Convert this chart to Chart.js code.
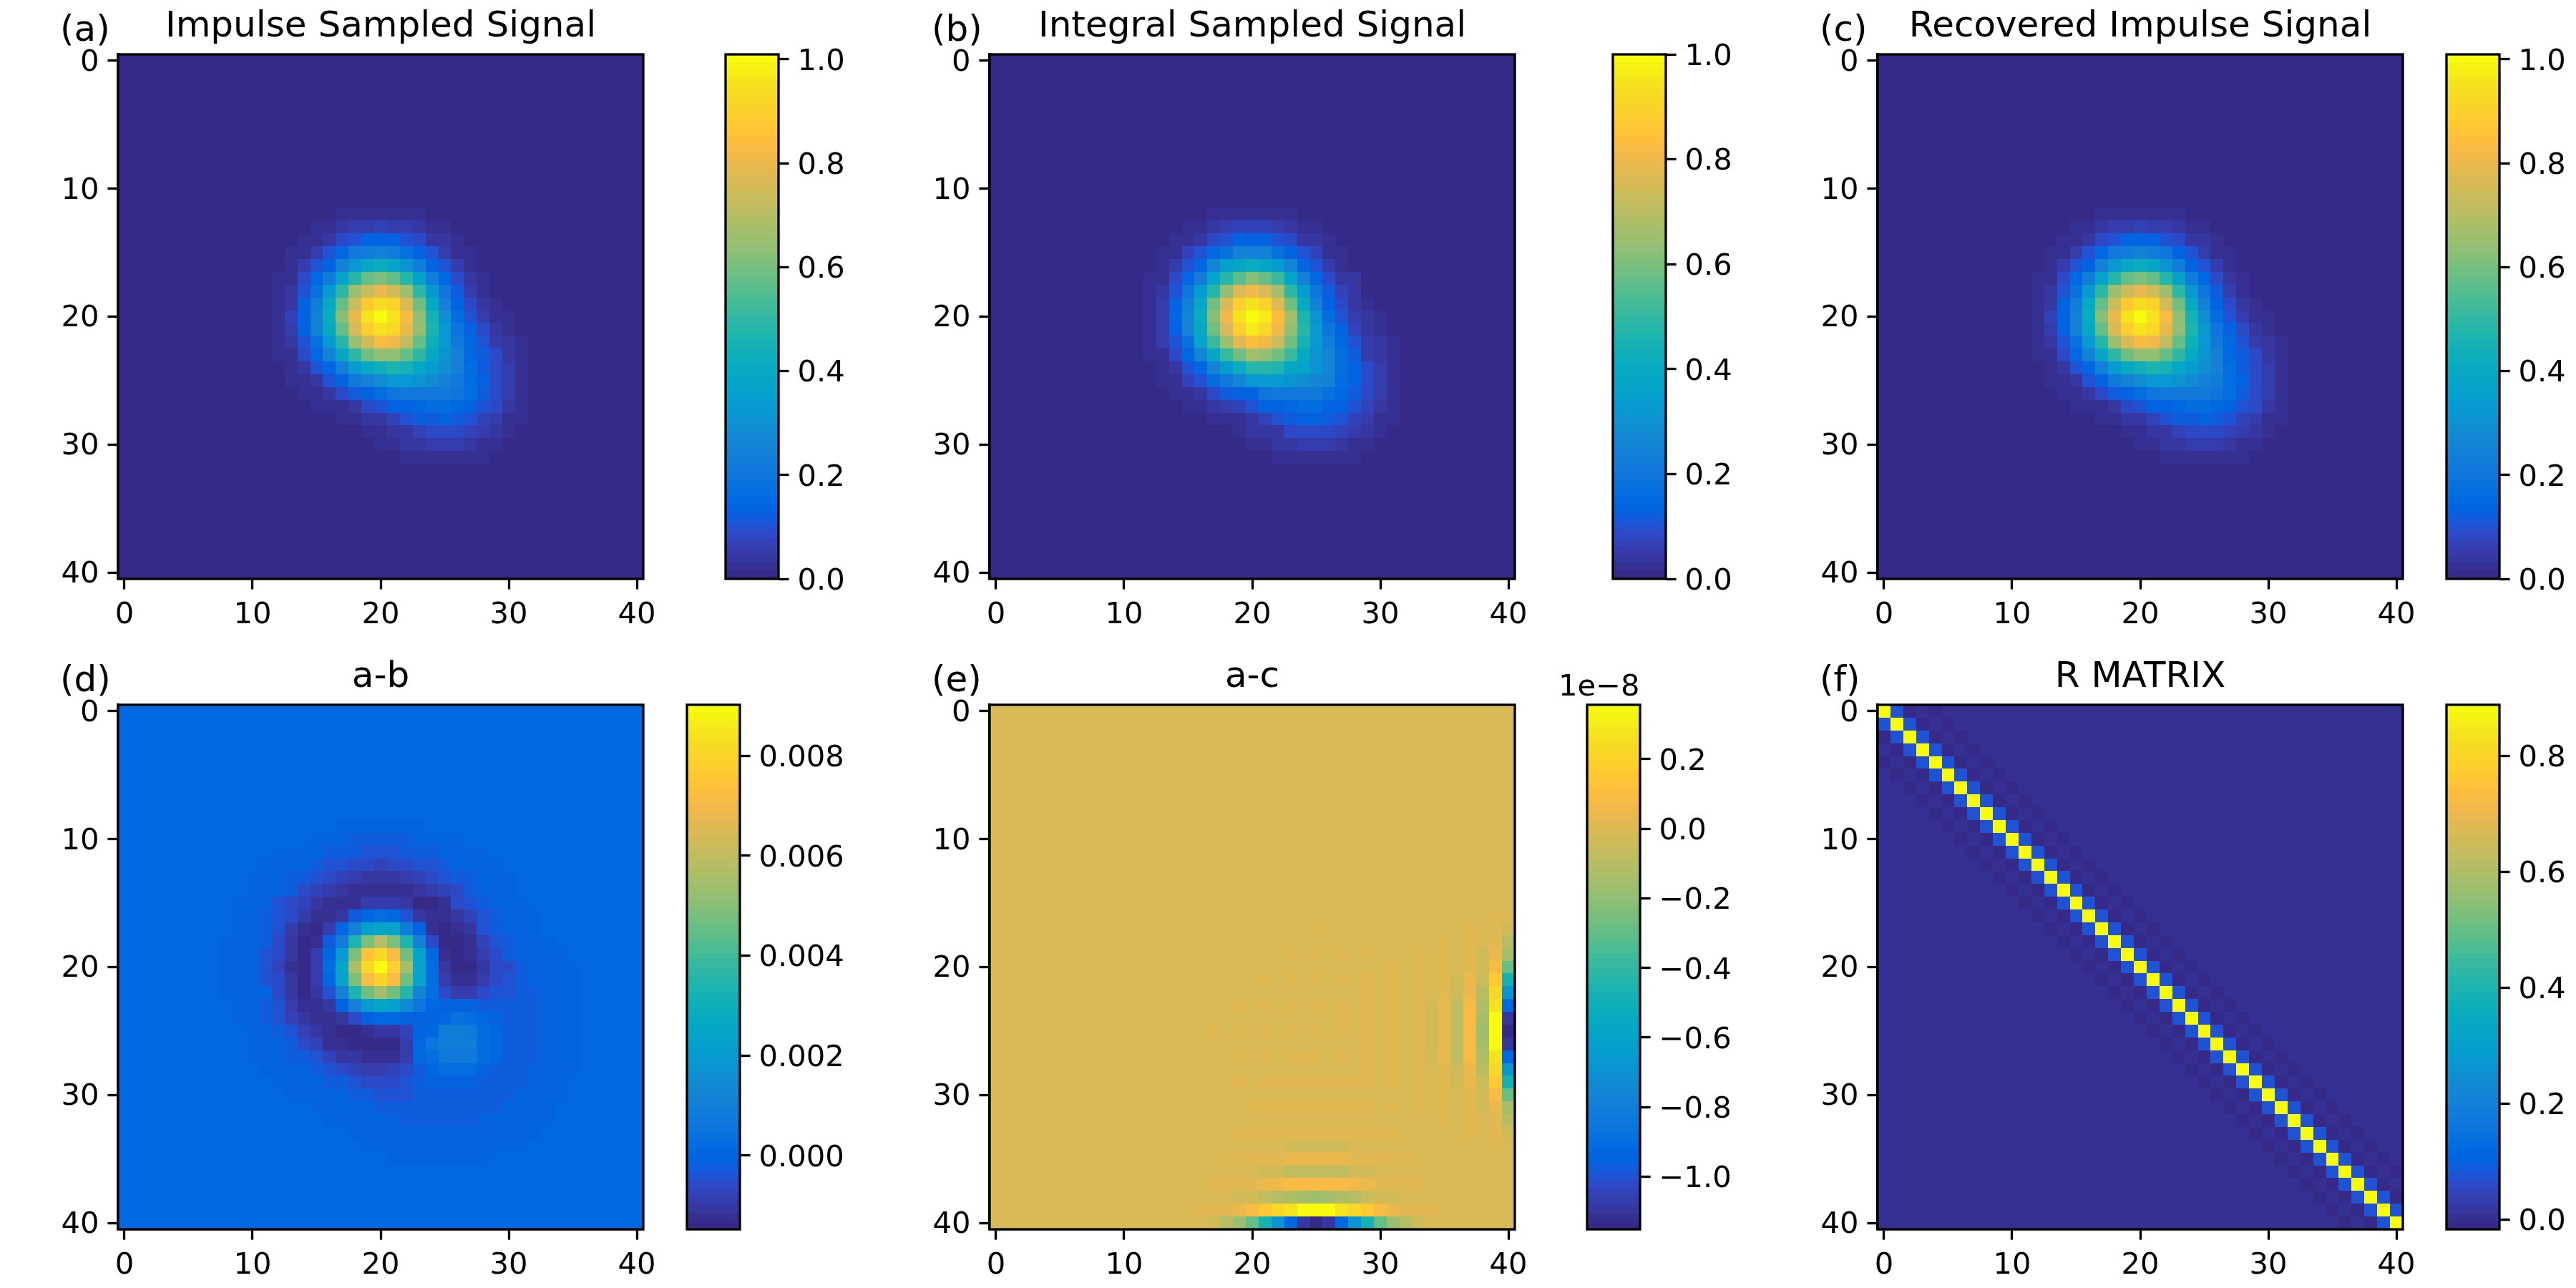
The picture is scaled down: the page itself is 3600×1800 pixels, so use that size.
<!DOCTYPE html>
<html>
<head>
<meta charset="utf-8">
<title>Sampled signal comparison</title>
<script src="https://cdn.jsdelivr.net/npm/chart.js@4"></script>
<style>
    html, body { margin: 0; padding: 0; background: #fff; width: 3600px; height: 1800px; overflow: hidden; }
    canvas { position: absolute; }
</style>
</head>
<body>
<script>
// Panel text and tick labels
const panelTitles = ['Impulse Sampled Signal', 'Integral Sampled Signal', 'Recovered Impulse Signal', 'a-b', 'a-c', 'R MATRIX'];
const panelLetters = ['(a)', '(b)', '(c)', '(d)', '(e)', '(f)'];
const axisTicks = [0, 10, 20, 30, 40];
const gridSize = 41;

// Panel (a), in percent, rows 12-31, columns 12-31 (the rest is 0)
const impulseRows = [
    [0,0,0,0,0,2,2,2,2,2,2,2,0,0,0,0,0,0,0,0],
    [0,0,0,2.5,2.5,4,5,5,7,5.5,5.5,4,2.5,2.5,0,0,0,0,0,0],
    [0,0,2,3,4.5,9,10,13,13,13,10,9,4.5,3.5,2,0,0,0,0,0],
    [0,2,3,5,10,15,21,23,25,23,18,14,10,5,3,2,0,0,0,0],
    [0,2,5,10,14,25,33,39,42,39,30,23,14,10,5,2,0,0,0,0],
    [2,3,8,15,23,37,48,58,61,57,48,36,23,15,8,4,3,0,0,0],
    [2,4.5,10,18,32,49,65,74,80,75,65,49,33,19,12,5,3,0,0,0],
    [2,4.5,14,23,40,58,74,88,94,90,76,59,40,24,14,8.5,4,3,0,0],
    [2,7,14,25,42,62,80,95,100,96,83,64,45,29,16,10,5.5,3,2.5,0],
    [2,5,14,24,40,58,77,89,96,92,80,64,47,33,19,14,8,3.5,3,0],
    [2,4.5,10,18,32,48,65,75,83,81,71,57,44,32,22,15,10,5,4,3],
    [2,3,8,15,24,38,49,59,64,64,57,50,40,31,25,15,12,8,4,3],
    [0,2,4.5,10,15,25,34,41,44,46,45,39,34,29,25,17,12,8.5,5.5,3],
    [0,2,3,4.5,10,14,21,25,29,32,32,30,28,25,22,17,13,9,5.5,2.5],
    [0,0,2,3,4.5,9,11.5,14,16,20,21,21,21,21,19,16,12,9,5.5,2.5],
    [0,0,0,2,2,3,3.5,8.5,10,13,14,15,16,16,15,14,10,8,4,2.5],
    [0,0,0,0,0,2.5,2.5,3.5,4.5,6.5,10,11.5,11.5,13,12,10,7,5,3,3],
    [0,0,0,0,0,0,0,2.5,2.5,3.5,4.5,7,8.5,8.5,8.5,7.5,5.5,3.5,3,0],
    [0,0,0,0,0,0,0,0,2.5,2.5,3.5,4,5,5,5,3.5,3,2.5,0,0],
    [0,0,0,0,0,0,0,0,0,0,2.5,2.5,2.5,2.5,2.5,2.5,2.5,0,0,0]
];

// Panel (b), same window
const integralRows = [
    [0,0,0,0,0,2,2,2,2,2,2,2,0,0,0,0,0,0,0,0],
    [0,0,0,2.5,2.5,4,5,7.5,7.5,7.5,5.5,4,2.5,2.5,0,0,0,0,0,0],
    [0,0,2,3,4.5,9,10,13,13,13,10.5,9,4.5,3.5,2,0,0,0,0,0],
    [0,2,3,7,10,15,18,24,24,24,18,14,10,7,3,2,0,0,0,0],
    [0,2,5,10,14.5,25,35,38,41,38,34,25,15,10,5,2,0,0,0,0],
    [2,3,8,15,23,37,47,56,61,57,50,37,24,15,8,4,3.5,0,0,0],
    [2,4.5,10,19,34,47,63,75,80,76,66,49,33,19,12,7,4.5,0,0,0],
    [2,5.5,14,24,39,58,76,88,94,90,78,59,40,24,14,8.5,4.5,3,0,0],
    [2,5.5,14.5,25,42,62,80,95,100,96,83,67,46,30,16,10,5,4,3,0],
    [2,5.5,14,25,40,58,76,89,96,92,80,64,47,32,19,14,7,4,3,0],
    [2,5,10,18,36,51,65,77,83,81,72,59,45,32,23,15,10,5,4,3],
    [2,3,8,15,25,38,51,59,66,64,59,51,40,31,25,16,12,6,4,3],
    [0,2,4.5,10,15,25,34,41,47,47,46,39,37,30,25,17,13,8.5,5.5,3],
    [0,2,3,7,10,16,21,25,32,33,33,31,29,25,24,17,13,8.5,5.5,2.5],
    [0,0,2,3,4.5,9,11.5,13,14,19,21,21,21,21,18,15,11.5,8.5,5.5,2.5],
    [0,0,0,2.5,2.5,3.5,6,7,10,13,14,15,16,16,14,14,10,7.5,4,2.5],
    [0,0,0,0,0,2.5,3,3,4.5,7,10,11.5,13,13,11.5,10,7.5,5,3,3],
    [0,0,0,0,0,0,0,2.5,3.5,3.5,4.5,8,8.5,8.5,8,7,5.5,3.5,3,0],
    [0,0,0,0,0,0,0,0,2.5,2.5,3.5,4,5,5,5,3.5,3,2.5,0,0],
    [0,0,0,0,0,0,0,0,0,0,2.5,2.5,2.5,2.5,2.5,2.5,2.5,0,0,0]
];

// Panel (c), same window
const recoveredRows = [
    [0,0,0,0,0,2,2,2,2,2,2,2,0,0,0,0,0,0,0,0],
    [0,0,0,2.5,2.5,4,5,5,7,5.5,5.5,4,2.5,2.5,0,0,0,0,0,0],
    [0,0,2,3,4.5,9,10,13,13,13,10,9,4.5,3.5,2,0,0,0,0,0],
    [0,2,3,5,10,15,21,23,24,23,19,14,10,5,3,2,0,0,0,0],
    [0,2,5,10,14,25,33,39,42,39,31,23,14,10,5,2,0,0,0,0],
    [2,3,8,15,23,37,48,58,61,57,48,36,23,15,8,4,3,0,0,0],
    [2,4.5,10,18,32,49,65,74,80,75,65,49,33,19,12,5,3,0,0,0],
    [2,4.5,14,23,40,58,74,88,94,90,75,59,40,24,14,8.5,4,3,0,0],
    [2,7,14,25,42,62,80,95,100,96,83,64,45,29,16,10,5.5,3,2.5,0],
    [2,5,14,24,40,58,77,89,96,92,80,64,47,33,19,14,8,3.5,3,0],
    [2,4.5,10,18,32,48,65,76,83,81,71,57,44,32,22,15,10,5,4,3],
    [2,3,8,15,24,38,49,59,64,64,57,50,40,31,25,15,12,8,4,3],
    [0,2,4.5,10,15,25,34,41,44,46,45,39,34,29,25,17,12,8.5,5.5,3],
    [0,2,3,4.5,10,14,21,25,29,32,32,30,28,25,23,17,13,9,5.5,2.5],
    [0,0,2,3,4.5,9,11.5,14,16,20,21,21,21,21,19,16,12,9,5.5,2.5],
    [0,0,0,2,2,3,3.5,8.5,10,13,14,15,16,16,15,14,10,8,4,2.5],
    [0,0,0,0,0,2.5,2.5,3.5,4.5,6.5,10,11.5,11.5,13,12,10,7,5,3,3],
    [0,0,0,0,0,0,0,2.5,2.5,3.5,4.5,7,8.5,8.5,8.5,7.5,5.5,3.5,3,0],
    [0,0,0,0,0,0,0,0,2.5,2.5,3.5,4,5,5,5,3.5,3,2.5,0,0],
    [0,0,0,0,0,0,0,0,0,0,2.5,2.5,2.5,2.5,2.5,2.5,2.5,0,0,0]
];

// Panel (d), in units of 1e-4, rows 9-35, columns 8-35 (the rest is 0.3)
const diffABRows = [
    [.3,.3,.3,.3,.3,.3,.3,.3,.3,-1,-1,-1,-1,-1,-1,-1,.3,.3,.3,.3,.3,.3,.3,.3,.3,.3,.3,.3],
    [.3,.3,.3,.3,.3,.3,.3,-1,-1,-1,-2.5,-2.5,-2.5,-2.5,-2.5,-1,-1,-1,-1,.3,.3,.3,.3,.3,.3,.3,.3,.3],
    [.3,.3,.3,.3,-1,-1,-1,-1,-2.5,-2.5,-2.5,-4,-4,-4,-2.5,-2.5,-2.5,-1,-1,-1,-1,.3,.3,.3,.3,.3,.3,.3],
    [.3,.3,.3,-1,-1,-1,-1,-2.5,-4,-4,-5.8,-5.8,-7.5,-5.8,-5.8,-4,-4,-2.5,-1,-1,-1,-1,.3,.3,.3,.3,.3,.3],
    [.3,.3,-1,-1,-1,-2.5,-2.5,-4,-5.8,-7.5,-9,-10.8,-10.8,-10.8,-9,-7.5,-5.8,-4,-2.5,-2.5,-1,-1,-1,.3,.3,.3,.3,.3],
    [.3,.3,-1,-1,-1,-2.5,-5.8,-7.5,-9,-10.8,-12.3,-12.3,-12.3,-12.3,-12.3,-10.8,-9,-7.5,-5.8,-2.5,-1,-1,-1,.3,.3,.3,.3,.3],
    [.3,-1,-1,-1,-4,-5.8,-8,-10.8,-13,-13,-12,-9.5,-9.5,-9.5,-11.5,-13.5,-13.5,-12,-6.5,-4,-2.5,-1,-1,-1,.3,.3,.3,.3],
    [.3,-1,-1,-2.5,-4,-5.8,-9,-13,-13,-10,-2.5,1,3,1,-4,-10.5,-13,-13,-10.5,-7.5,-4,-2.5,-1,-1,-1,.3,.3,.3],
    [.3,-1,-1,-2.5,-4,-8.5,-12,-13.5,-9.5,0,10,22,26,23,9.5,-.5,-12,-14,-13,-10,-4.5,-2.5,-1,-1,-1,.3,.3,.3],
    [-1,-1,-1,-2.5,-5.5,-10,-13.5,-12,-2.5,9,33,49,58,49,33,10,-6,-14,-14,-12,-7,-4,-2.5,-1,-1,-1,.3,.3],
    [-1,-1,-1,-4,-5.8,-11.5,-13.5,-9,1,21,49,74,81,72,47,23,1,-12.5,-14,-13,-9,-5.5,-2.5,-1,-1,-1,-1,.3],
    [-1,-1,-1,-4,-7.5,-12,-13.5,-9,3,25,57,81,90,78,55,24,2,-11.5,-14,-13.5,-10,-6,-5,-2.5,-1,-1,-1,-1],
    [-1,-1,-1,-4,-5.8,-11.5,-13.5,-9,1,23,49,72,79,72,47,24,2,-9,-12.5,-12,-9,-6,-4.5,-2.5,-1,-1,-1,-1],
    [-1,-1,-1,-1,-5,-10,-13.5,-11.5,-4,10,33,47,55,47,35,13,2,-5.5,-8.5,-8.5,-6.5,-4.5,-4.5,-2.5,-2.5,-1,-1,-1],
    [.3,-.5,-.5,-2.5,-4,-8.5,-12,-13,-10.5,-.5,10,21,25,22,14,6.5,1.5,-.5,-.5,-.5,-2,-2.5,-2.5,-2.5,-2.5,-1,-1,-1],
    [.3,-.5,-.5,-2.5,-4,-7,-10,-12.5,-12.5,-10.5,-6,-.5,.5,.5,-.5,-.5,-.5,1,4.5,3,1.5,-1,-2.5,-2.5,-2.5,-1,-1,-1],
    [.3,.3,-1,-1,-2.5,-4,-7.5,-10,-12.5,-14,-14,-13,-11,-11.5,-7,-.5,1.5,8.5,8.5,8,2,0,-2.5,-2.5,-2.5,-1,-1,-1],
    [.3,.3,-1,-1,-1,-2.5,-5.5,-7.5,-12,-13,-14,-14,-14,-13.5,-9,0,5,8.5,8.5,8.5,2.5,0,-2.5,-2.5,-2.5,-1,-1,-1],
    [.3,.3,-1,-1,-1,-2.5,-2.5,-4,-8,-10,-11.5,-12.5,-12.5,-12,-8.5,0,3,7,7,7.5,2.5,0,-2.5,-2.5,-2.5,-1,-1,-1],
    [.3,.3,.3,-1,-1,-1,-1,-2.5,-4,-6,-7.5,-9.5,-9.5,-7.5,-6,-2.5,.5,2.5,2.5,2.5,-1,-2.5,-2.5,-2.5,-1,-1,-1,-1],
    [.3,.3,.3,.3,-1,-1,-1,-1,-2.5,-2.5,-4,-5.8,-5.8,-5.8,-4,-2.5,-1,-1,-1,-1,-2.5,-2.5,-2.5,-2.5,-1,-1,-1,.3],
    [.3,.3,.3,.3,.3,-1,-1,-1,-1,-1,-2.5,-2.5,-4,-4,-4,-2.5,-2.5,-2.5,-2.5,-2.5,-2.5,-2.5,-2.5,-1,-1,-1,-1,.3],
    [.3,.3,.3,.3,.3,.3,.3,-1,-1,-1,-1,-1,-2.5,-2.5,-2.5,-2.5,-2.5,-2.5,-2.5,-2.5,-2.5,-2.5,-1,-1,-1,-1,.3,.3],
    [.3,.3,.3,.3,.3,.3,.3,.3,-1,-1,-1,-1,-1,-1,-2.5,-2.5,-2.5,-2.5,-2.5,-2.5,-1,-1,-1,-1,-1,-1,.3,.3],
    [.3,.3,.3,.3,.3,.3,.3,.3,.3,.3,-1,-1,-1,-1,-1,-1,-1,-1,-1,-1,-1,-1,-1,-1,-1,.3,.3,.3],
    [.3,.3,.3,.3,.3,.3,.3,.3,.3,.3,.3,-1,-1,-1,-1,-1,-1,-1,-1,-1,-1,-1,-1,-1,.3,.3,.3,.3],
    [.3,.3,.3,.3,.3,.3,.3,.3,.3,.3,.3,.3,.3,-1,-1,-1,-1,-1,-1,-1,-1,.3,.3,.3,.3,.3,.3,.3]
];

// Panel (e), in units of 1e-8, rows 16-40, columns 16-40 (the rest is 0)
const diffACRows = [
    [0,0,0,0,0,0,0,0,0,0,0,0,0,0,0,0,0,0,0,0,0,0,0,.02,0],
    [0,0,0,0,0,0,0,0,0,.02,0,0,0,0,0,0,0,0,0,0,0,.02,0,.02,-.035],
    [0,0,0,0,0,0,0,0,0,0,0,0,0,0,0,0,0,0,0,.02,0,.02,0,.02,-.1],
    [0,0,0,0,0,0,0,.02,0,.02,0,.02,0,.02,0,0,0,.02,0,.02,0,.02,-.035,.04,-.15],
    [0,0,0,0,0,0,0,0,0,0,0,0,0,0,0,.02,0,.02,0,.02,0,.02,-.035,.09,-.29],
    [0,0,0,0,0,.02,0,.02,0,.02,0,.02,0,.02,0,.02,0,.02,0,.02,-.035,.04,-.055,.145,-.48],
    [0,0,0,0,0,0,0,0,0,0,0,0,0,.02,0,.02,0,.02,0,.02,-.035,.04,-.1,.22,-.69],
    [0,0,0,.02,0,.02,0,.02,0,.02,0,.02,0,.02,0,.02,0,.02,-.035,.04,-.08,.09,-.125,.275,-.93],
    [0,0,0,0,0,0,0,0,0,0,0,.02,0,.02,0,.02,0,.02,-.035,.04,-.08,.09,-.15,.356,-1.09],
    [0,.02,0,.02,0,.02,0,.02,0,.02,0,.02,0,.02,0,.02,0,.02,-.035,.04,-.08,.09,-.175,.356,-1.15],
    [0,0,0,0,0,0,0,0,0,0,0,0,0,.02,0,.02,0,.02,-.035,.04,-.08,.09,-.15,.356,-1.09],
    [0,0,0,.02,0,.02,0,.02,.02,.02,0,.02,0,.02,0,.02,0,.02,-.035,.04,-.08,.09,-.125,.275,-.93],
    [0,0,0,0,0,0,0,0,0,0,0,0,0,.02,0,.02,0,.02,0,.02,-.035,.04,-.1,.22,-.69],
    [0,0,0,.02,0,.02,.02,.02,.02,.02,.02,.02,.02,.02,0,.02,0,.02,0,.02,-.035,.035,-.055,.145,-.48],
    [0,0,0,0,0,0,0,0,0,0,0,0,0,0,0,0,0,.02,0,.02,0,.02,-.035,.09,-.29],
    [0,0,0,0,.02,.02,.02,.02,.02,.02,.02,.02,.02,.02,0,.02,0,.02,0,.02,0,.02,-.035,.04,-.14],
    [0,0,0,0,0,0,0,0,0,0,0,0,0,0,0,0,0,0,0,.02,0,.02,0,.02,-.1],
    [0,0,0,.02,.02,.02,.02,.02,.02,.02,.02,.02,.02,.02,.02,.02,0,0,0,0,0,.02,0,.02,-.035],
    [0,0,0,0,0,0,0,-.035,-.035,-.035,-.035,-.035,0,0,0,0,0,0,0,0,0,0,0,.02,0],
    [0,0,.02,.02,.02,.02,.02,.04,.04,.04,.04,.04,.02,.02,.02,.02,.02,0,0,0,0,0,0,0,0],
    [0,0,0,0,0,-.035,-.035,-.08,-.08,-.08,-.08,-.08,-.035,-.035,0,0,0,0,0,0,0,0,0,0,0],
    [0,.02,.02,.02,.02,.04,.065,.09,.09,.09,.09,.09,.065,.04,.02,.02,.02,.02,0,0,0,0,0,0,0],
    [0,0,0,-.035,-.035,-.08,-.1,-.125,-.15,-.175,-.15,-.125,-.1,-.055,-.035,-.035,0,0,0,0,0,0,0,0,0],
    [.02,.02,.02,.04,.09,.145,.22,.275,.356,.356,.356,.275,.22,.145,.09,.04,.02,.02,.02,0,0,0,0,0,0],
    [0,-.035,-.1,-.17,-.29,-.48,-.69,-.93,-1.09,-1.15,-1.09,-.93,-.69,-.48,-.29,-.17,-.1,-.035,0,0,0,0,0,0,0]
];

// Panel (f), the diagonals of the R matrix, everything further out is 0
const rDiagonal = [.888,.888,.888,.888,.888,.888,.888,.888,.888,.888,.888,.888,.888,.888,.888,.888,.888,.888,.888,.888,.888,.888,.888,.888,.888,.888,.888,.888,.888,.888,.888,.888,.888,.888,.888,.888,.888,.888,.888,.888,.888];
const rOffset1 = [.076,.076,.076,.076,.076,.076,.076,.076,.076,.076,.076,.076,.076,.076,.076,.076,.076,.076,.076,.076,.076,.076,.076,.076,.076,.076,.076,.076,.076,.076,.076,.076,.076,.076,.076,.076,.076,.076,.076,.076];
const rOffset2 = [-.012,-.012,-.012,-.012,-.012,-.012,-.012,-.012,-.012,-.012,-.012,-.012,-.012,-.012,-.012,-.012,-.012,-.012,-.012,-.012,-.012,-.012,-.012,-.012,-.012,-.012,-.012,-.012,-.012,-.012,-.012,-.012,-.012,-.012,-.012,-.012,-.012,-.012,-.012];
const rOffset3 = [.004,.004,.004,.004,.004,.004,.004,.004,.004,.004,.004,.004,.004,.004,.004,.004,.004,.004,.004,.004,.004,.004,.004,.004,.004,.004,.004,.004,.004,.004,.004,.004,.004,.004,.004,.004,.004,.004];
const rOffset4 = [-.009,-.009,-.009,-.009,-.009,-.009,-.009,-.009,-.009,-.009,-.009,-.009,-.009,-.009,-.009,-.009,-.009,-.009,-.009,-.009,-.009,-.009,-.009,-.009,-.009,-.009,-.009,-.009,-.009,-.009,-.009,-.009,-.009,-.009,-.009,-.009,-.009];

// Colorbar ranges, tick values and tick labels, in the same units as the grids
const barMin = [0, 0, 0, -14.8, -1.151, -0.017];
const barMax = [100.95, 100, 100.95, 90.2, 0.356, 0.888];
const barTicks = [
    [0, 20, 40, 60, 80, 100],
    [0, 20, 40, 60, 80, 100],
    [0, 20, 40, 60, 80, 100],
    [0, 20, 40, 60, 80],
    [-1, -0.8, -0.6, -0.4, -0.2, 0, 0.2],
    [0, 0.2, 0.4, 0.6, 0.8]
];
const barTickLabels = [
    ['0.0', '0.2', '0.4', '0.6', '0.8', '1.0'],
    ['0.0', '0.2', '0.4', '0.6', '0.8', '1.0'],
    ['0.0', '0.2', '0.4', '0.6', '0.8', '1.0'],
    ['0.000', '0.002', '0.004', '0.006', '0.008'],
    ['\u22121.0', '\u22120.8', '\u22120.6', '\u22120.4', '\u22120.2', '0.0', '0.2'],
    ['0.0', '0.2', '0.4', '0.6', '0.8']
];
const barOffsetText = ['', '', '', '', '1e\u22128', ''];

// Colormap, 64 levels
const parula = [
    [.2081,.1663,.5292],[.2116,.1898,.5777],[.2123,.2138,.6270],[.2081,.2386,.6771],[.1959,.2645,.7279],[.1707,.2919,.7792],[.1253,.3242,.8303],[.0591,.3598,.8683],
    [.0117,.3875,.8820],[.0060,.4086,.8828],[.0165,.4266,.8786],[.0329,.4430,.8720],[.0498,.4586,.8641],[.0629,.4737,.8554],[.0723,.4887,.8467],[.0779,.5040,.8384],
    [.0793,.5200,.8312],[.0749,.5375,.8263],[.0641,.5570,.8240],[.0488,.5772,.8228],[.0343,.5966,.8199],[.0265,.6137,.8135],[.0239,.6287,.8038],[.0231,.6418,.7913],
    [.0228,.6535,.7768],[.0267,.6642,.7607],[.0384,.6743,.7436],[.0590,.6838,.7254],[.0843,.6928,.7062],[.1133,.7015,.6859],[.1453,.7098,.6646],[.1801,.7177,.6424],
    [.2178,.7250,.6193],[.2586,.7317,.5954],[.3022,.7376,.5712],[.3482,.7424,.5473],[.3953,.7459,.5244],[.4420,.7481,.5033],[.4871,.7491,.4840],[.5300,.7491,.4661],
    [.5709,.7485,.4494],[.6099,.7473,.4337],[.6473,.7456,.4188],[.6834,.7435,.4044],[.7184,.7411,.3905],[.7525,.7384,.3768],[.7858,.7356,.3633],[.8185,.7327,.3498],
    [.8507,.7299,.3360],[.8824,.7274,.3217],[.9139,.7258,.3063],[.9450,.7261,.2886],[.9739,.7314,.2666],[.9938,.7455,.2403],[.9990,.7653,.2164],[.9955,.7861,.1967],
    [.9880,.8066,.1794],[.9789,.8271,.1633],[.9697,.8481,.1475],[.9626,.8705,.1309],[.9589,.8949,.1132],[.9598,.9218,.0948],[.9661,.9514,.0755],[.9763,.9831,.0538]
];

// Layout of the figure, in page pixels
const axesLeft = [165, 1383, 2624, 165, 1383, 2624];
const axesTop = [76, 76, 76, 985, 985, 985];
const axesWidth = 734;
const axesHeight = 733;
const barLeft = [1014, 2254, 3419, 960, 2218, 3419];
const barWidth = 74;
const marginLeft = 140;
const marginRight = 40;
const marginTop = 85;
const marginBottom = 110;
const fontFamily = "'DejaVu Sans'";
const tickFont = { size: 41.67, family: fontFamily };
const lineW = 3.33;

function levelColor(level) {
    const c = parula[level];
    return `rgb(${Math.round(c[0] * 255)}, ${Math.round(c[1] * 255)}, ${Math.round(c[2] * 255)})`;
}

function valueColor(v, lo, hi) {
    const level = Math.floor((v - lo) / (hi - lo) * 64);
    return levelColor(Math.max(0, Math.min(63, level)));
}

// Turn a window of rows into a cell list covering the whole 41x41 image
function gridCells(rows, firstRow, firstCol, base) {
    const cells = [];
    for (let y = 0; y < gridSize; y++) {
        const row = rows[y - firstRow];
        for (let x = 0; x < gridSize; x++) {
            const v = row && row[x - firstCol] !== undefined ? row[x - firstCol] : base;
            cells.push({ x: x, y: y, v: v });
        }
    }
    return cells;
}

function diagonalCells() {
    const bands = [rDiagonal, rOffset1, rOffset2, rOffset3, rOffset4];
    const cells = gridCells([], 0, 0, 0);
    bands.forEach((band, off) => {
        band.forEach((v, i) => {
            cells[i * gridSize + i + off].v = v;
            cells[(i + off) * gridSize + i].v = v;
        });
    });
    return cells;
}

const panelCells = [
    gridCells(impulseRows, 12, 12, 0),
    gridCells(integralRows, 12, 12, 0),
    gridCells(recoveredRows, 12, 12, 0),
    gridCells(diffABRows, 9, 8, 0.3),
    gridCells(diffACRows, 16, 16, 0),
    diagonalCells()
];

// Paints the image cells through the chart's scales
const heatmapCells = {
    id: 'heatmapCells',
    beforeDatasetsDraw(chart, args, opts) {
        const { ctx, scales } = chart;
        chart.data.datasets[0].data.forEach(cell => {
            const x0 = Math.round(scales.x.getPixelForValue(cell.x - 0.5));
            const x1 = Math.round(scales.x.getPixelForValue(cell.x + 0.5));
            const y0 = Math.round(scales.y.getPixelForValue(cell.y - 0.5));
            const y1 = Math.round(scales.y.getPixelForValue(cell.y + 0.5));
            ctx.fillStyle = valueColor(cell.v, opts.lo, opts.hi);
            ctx.fillRect(x0, y0, x1 - x0, y1 - y0);
        });
    }
};

// Paints the colorbar bands through the chart's y scale
const colorBands = {
    id: 'colorBands',
    beforeDatasetsDraw(chart, args, opts) {
        const { ctx, scales, chartArea } = chart;
        const step = (opts.hi - opts.lo) / parula.length;
        parula.forEach((_, k) => {
            const y0 = Math.round(scales.y.getPixelForValue(opts.lo + (k + 1) * step));
            const y1 = Math.round(scales.y.getPixelForValue(opts.lo + k * step));
            ctx.fillStyle = levelColor(k);
            ctx.fillRect(chartArea.left, y0, chartArea.width, y1 - y0);
        });
    }
};

// Frame around the plot area plus the free-standing texts
const frameAndText = {
    id: 'frameAndText',
    afterDraw(chart, args, opts) {
        const { ctx, chartArea } = chart;
        ctx.save();
        ctx.strokeStyle = '#000';
        ctx.lineWidth = lineW;
        ctx.strokeRect(chartArea.left, chartArea.top, chartArea.width, chartArea.height);
        ctx.fillStyle = '#000';
        ctx.textBaseline = 'alphabetic';
        ctx.textAlign = 'left';
        if (opts.letter) {
            ctx.font = `50px ${fontFamily}`;
            ctx.fillText(opts.letter, chartArea.left - 81, chartArea.top - 19);
        }
        if (opts.offsetText) {
            ctx.font = `41.67px ${fontFamily}`;
            ctx.fillText(opts.offsetText, chartArea.left - 40, chartArea.top - 13);
        }
        ctx.restore();
    }
};

function addCanvas(left, top, width, height) {
    const canvas = document.createElement('canvas');
    canvas.width = width;
    canvas.height = height;
    canvas.style.left = left + 'px';
    canvas.style.top = top + 'px';
    canvas.style.width = width + 'px';
    canvas.style.height = height + 'px';
    document.body.appendChild(canvas);
    return canvas;
}

function imageAxis(position, labelOffset, extra) {
    return Object.assign({
        type: 'linear',
        position: position,
        min: -0.5,
        max: gridSize - 0.5,
        afterBuildTicks: axis => { axis.ticks = axisTicks.map(value => ({ value })); },
        grid: { drawOnChartArea: false, drawTicks: true, tickLength: 14.6, tickWidth: lineW, tickColor: '#000' },
        border: { display: true, color: '#000', width: lineW },
        ticks: { color: '#000', font: tickFont, padding: 12, labelOffset: labelOffset, maxRotation: 0, autoSkip: false, callback: v => String(v) }
    }, extra);
}

document.addEventListener('DOMContentLoaded', () => {
    Chart.defaults.font.family = fontFamily;
    Chart.defaults.color = '#000';
    Chart.defaults.animation = false;

    panelTitles.forEach((title, p) => {
        // Image panel
        const imageCanvas = addCanvas(axesLeft[p] - marginLeft, axesTop[p] - marginTop, marginLeft + axesWidth + marginRight, marginTop + axesHeight + marginBottom);
        new Chart(imageCanvas, {
            type: 'scatter',
            data: { datasets: [{ data: panelCells[p], pointRadius: 0, pointHitRadius: 0 }] },
            plugins: [heatmapCells, frameAndText],
            options: {
                responsive: false,
                devicePixelRatio: 1,
                events: [],
                layout: { padding: { right: marginRight, top: 0, left: 0, bottom: 0 } },
                scales: {
                    x: imageAxis('bottom', 0, { afterFit: axis => { axis.height = marginBottom; } }),
                    y: imageAxis('left', 3, { reverse: true, afterFit: axis => { axis.width = marginLeft; } })
                },
                plugins: {
                    legend: { display: false },
                    tooltip: { enabled: false },
                    title: {
                        display: true,
                        text: title,
                        color: '#000',
                        fullSize: false,
                        font: { size: 50, family: fontFamily, weight: 'normal' },
                        padding: { top: 17, bottom: 8 }
                    },
                    heatmapCells: { lo: barMin[p], hi: barMax[p] },
                    frameAndText: { letter: panelLetters[p] }
                }
            }
        });

        // Colorbar
        const barTopSpace = 60;
        const barBottomSpace = 40;
        const barRightSpace = 200;
        const barCanvas = addCanvas(barLeft[p], axesTop[p] - barTopSpace, barWidth + barRightSpace, barTopSpace + axesHeight + barBottomSpace);
        barCanvas.style.left = (barLeft[p] - 60) + 'px';
        barCanvas.width = 60 + barWidth + barRightSpace;
        barCanvas.style.width = barCanvas.width + 'px';
        new Chart(barCanvas, {
            type: 'scatter',
            data: { datasets: [{ data: [], pointRadius: 0 }] },
            plugins: [colorBands, frameAndText],
            options: {
                responsive: false,
                devicePixelRatio: 1,
                events: [],
                layout: { padding: { left: 60, top: barTopSpace, bottom: barBottomSpace, right: 0 } },
                scales: {
                    x: { type: 'linear', display: false, min: 0, max: 1 },
                    y: {
                        type: 'linear',
                        position: 'right',
                        min: barMin[p],
                        max: barMax[p],
                        afterFit: axis => { axis.width = barRightSpace; },
                        afterBuildTicks: axis => { axis.ticks = barTicks[p].map(value => ({ value })); },
                        grid: { drawOnChartArea: false, drawTicks: true, tickLength: 14.6, tickWidth: lineW, tickColor: '#000' },
                        border: { display: false },
                        ticks: {
                            color: '#000',
                            font: tickFont,
                            padding: 12,
                            labelOffset: 4,
                            autoSkip: false,
                            callback: (v, i) => barTickLabels[p][i]
                        }
                    }
                },
                plugins: {
                    legend: { display: false },
                    tooltip: { enabled: false },
                    title: { display: false },
                    colorBands: { lo: barMin[p], hi: barMax[p] },
                    frameAndText: { offsetText: barOffsetText[p] }
                }
            }
        });
    });
});
</script>
</body>
</html>
